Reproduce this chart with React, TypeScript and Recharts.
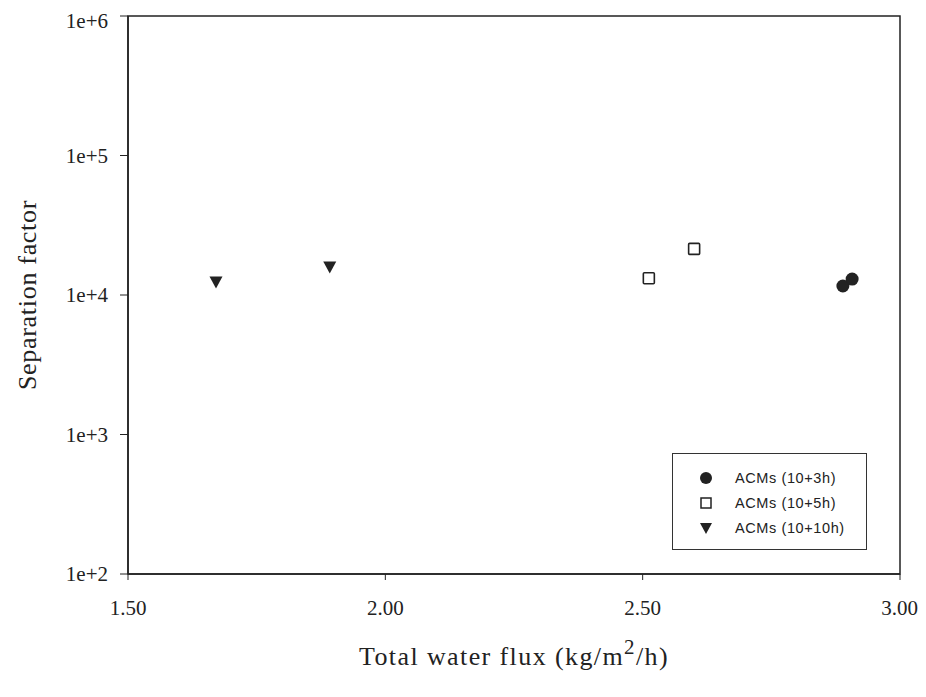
import React from "react";
import { ScatterChart, Scatter, XAxis, YAxis, ReferenceArea } from "recharts";

const series3h = [
  { x: 2.889, y: 11600 },
  { x: 2.907, y: 13000 },
];
const series5h = [
  { x: 2.512, y: 13200 },
  { x: 2.600, y: 21400 },
];
const series10h = [
  { x: 1.671, y: 12400 },
  { x: 1.892, y: 15900 },
];
const seriesNames = ["ACMs (10+3h)", "ACMs (10+5h)", "ACMs (10+10h)"];
const xTicks = [1.5, 2.0, 2.5, 3.0];
const yTicks = [100, 1000, 10000, 100000, 1000000];

const INK = "#222";
const SERIF = "'Liberation Serif', 'DejaVu Serif', serif";

const CircleShape = (p: any) => <circle cx={p.cx} cy={p.cy} r={6.5} fill={INK} />;
const SquareShape = (p: any) => (
  <rect x={p.cx - 5.5} y={p.cy - 5.5} width={11} height={11} rx={1} fill="#fff" stroke={INK} strokeWidth={1.6} />
);
const TriShape = (p: any) => (
  <path d={`M${p.cx - 6.5},${p.cy - 5.5} L${p.cx + 6.5},${p.cy - 5.5} L${p.cx},${p.cy + 6.5} Z`} fill={INK} />
);

const LegendBox = () => {
  const sym = (i: number) => {
    if (i === 0) return <circle cx={8} cy={8} r={6} fill={INK} />;
    if (i === 1) return <rect x={3} y={3} width={10} height={10} fill="#fff" stroke={INK} strokeWidth={1.5} />;
    return <path d="M2,3 L14,3 L8,14 Z" fill={INK} />;
  };
  return (
    <div
      style={{
        position: "absolute",
        left: 664,
        top: 445,
        width: 195,
        height: 97,
        border: "1.5px solid #333",
        boxSizing: "border-box",
        background: "#fff",
        paddingTop: 11,
        fontFamily: "'Liberation Sans', Arial, sans-serif",
        fontSize: 14.5,
        letterSpacing: 0.6,
        color: INK,
      }}
    >
      {seriesNames.map((n, i) => (
        <div key={n} style={{ display: "flex", alignItems: "center", height: 25 }}>
          <svg width={16} height={16} style={{ marginLeft: 25, marginRight: 21 }}>
            {sym(i)}
          </svg>
          <span>{n}</span>
        </div>
      ))}
    </div>
  );
};

const XLabel = (props: any) => {
  const vb = props.viewBox || {};
  const cx = vb.x + vb.width / 2;
  return (
    <text x={cx} y={657} textAnchor="middle" fontFamily={SERIF} fontSize={26} letterSpacing={1.4} fill={INK}>
      Total water flux (kg/m
      <tspan dy={-11} fontSize={21}>2</tspan>
      <tspan dy={11}>/h)</tspan>
    </text>
  );
};

export default function App() {
  return (
    <div style={{ position: "relative", width: 910, height: 680 }}>
      <ScatterChart width={910} height={680} margin={{ top: 8, right: 18, left: 0, bottom: 54 }}>
        <ReferenceArea x1={1.5} x2={3} y1={100} y2={1000000} fill="none" stroke={INK} strokeWidth={1.5} ifOverflow="visible" />
        <XAxis
          type="number"
          dataKey="x"
          domain={[1.5, 3]}
          ticks={xTicks}
          tickFormatter={(v: number) => v.toFixed(2)}
          axisLine={{ stroke: INK, strokeWidth: 1.5 }}
          tickLine={{ stroke: INK }}
          tickSize={6}
          tickMargin={20}
          height={60}
          tick={{ fontFamily: SERIF, fontSize: 21, fill: INK }}
          label={<XLabel />}
        />
        <YAxis
          type="number"
          dataKey="y"
          scale="log"
          domain={[100, 1000000]}
          ticks={yTicks}
          allowDataOverflow
          tickFormatter={(v: number) => "1e+" + Math.round(Math.log10(v))}
          axisLine={{ stroke: INK, strokeWidth: 1.5 }}
          tickLine={{ stroke: INK }}
          tickSize={8}
          tickMargin={12}
          width={120}
          tick={{ fontFamily: SERIF, fontSize: 21, fill: INK }}
          label={{
            value: "Separation factor",
            angle: -90,
            position: "insideLeft",
            dx: 14,
            style: { fontFamily: SERIF, fontSize: 26, letterSpacing: 0.7, fill: INK, textAnchor: "middle" },
          }}
        />
        <Scatter name={seriesNames[0]} data={series3h} shape={CircleShape} isAnimationActive={false} />
        <Scatter name={seriesNames[1]} data={series5h} shape={SquareShape} isAnimationActive={false} />
        <Scatter name={seriesNames[2]} data={series10h} shape={TriShape} isAnimationActive={false} />
      </ScatterChart>
      <LegendBox />
    </div>
  );
}
